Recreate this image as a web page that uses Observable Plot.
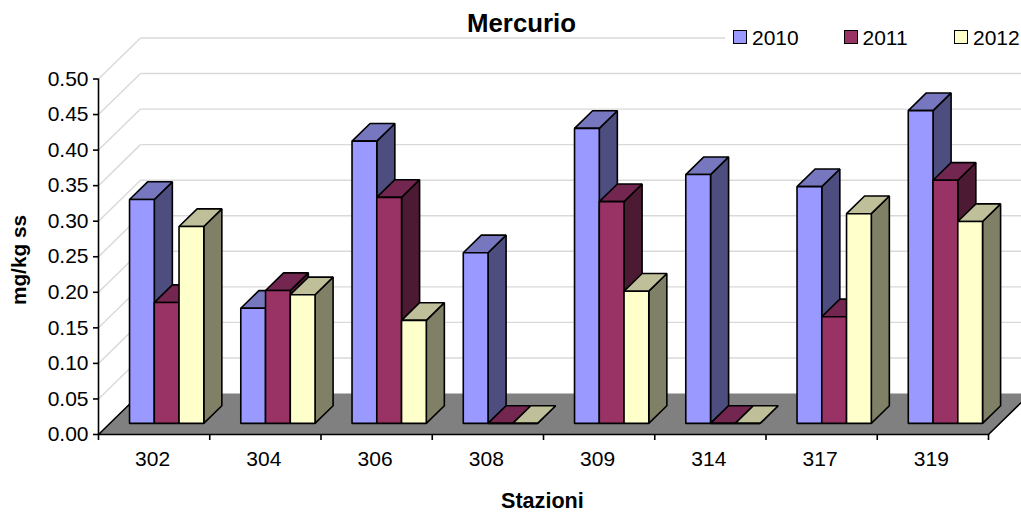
<!DOCTYPE html>
<html><head><meta charset="utf-8">
<script src="https://cdn.jsdelivr.net/npm/d3@7"></script>
<script src="https://cdn.jsdelivr.net/npm/@observablehq/plot@0.6"></script>
<style>
html,body{margin:0;padding:0;background:#fff;overflow:hidden}
#wrap{position:relative;width:1021px;height:516px;font-family:"Liberation Sans",Arial,sans-serif;color:#000}
#wrap svg{position:absolute;left:0;top:0}
.t{position:absolute;white-space:nowrap;line-height:1}
.sw{position:absolute;width:12px;height:12px;border:1.6px solid #000;box-sizing:content-box}
#legend{position:absolute;left:725px;top:22px;width:296px;height:30px;background:#fff}
</style></head><body>
<div id="wrap">
</div>
<script>
const stations = ["302","304","306","308","309","314","317","319"];
const v2010 = [0.315,0.162,0.397,0.240,0.415,0.350,0.333,0.440];
const v2011 = [0.170,0.187,0.318,0,0.312,0,0.150,0.342];
const v2012 = [0.277,0.181,0.145,0,0.186,0,0.295,0.284];
const years = ["2010","2011","2012"];
const seriesValues = [v2010,v2011,v2012];
const frontColors = ["#9999FF","#993366","#FFFFCC"];
const topColors = ["#7777BF","#732650","#BFBF99"];
const sideColors = ["#4D4D80","#4D1A33","#808066"];
const yTicks = [0,0.05,0.10,0.15,0.20,0.25,0.30,0.35,0.40,0.45,0.50];
const gridValues = [0.05,0.10,0.15,0.20,0.25,0.30,0.35,0.40,0.45,0.50];

// oblique projection of the 3D box: depth 0..1 shifts points in data units
const depthX = 0.3775, depthY = 0.0577;
const barStart = 0.177, barWidth = 0.2225;
const d0 = 0.27, d1 = 0.70;
const P = (x, v, d) => ({x: x + d * depthX, y: v + d * depthY});

const polys = [];
function poly(id, fill, pts){ pts.forEach(p => polys.push({...p, id, fill})); }
stations.forEach((s, i) => {
  seriesValues.forEach((vals, k) => {
    const v = vals[i], a = i + barStart + k * barWidth, b = a + barWidth;
    poly(`${i}-${k}-side`, sideColors[k], [P(b,0,d0),P(b,0,d1),P(b,v,d1),P(b,v,d0)]);
    poly(`${i}-${k}-top`, topColors[k], [P(a,v,d0),P(a,v,d1),P(b,v,d1),P(b,v,d0)]);
    poly(`${i}-${k}-front`, frontColors[k], [P(a,0,d0),P(b,0,d0),P(b,v,d0),P(a,v,d0)]);
  });
});
const floor = [P(0,0,1),P(0,0,0),P(8,0,0),P(8,0,1)];
const wallGrid = gridValues.flatMap(v => [
  {x1:P(0,v,0).x, y1:P(0,v,0).y, x2:P(0,v,1).x, y2:P(0,v,1).y},
  {x1:P(0,v,1).x, y1:P(0,v,1).y, x2:P(8,v,1).x, y2:P(8,v,1).y}
]);

const chart = Plot.plot({
  width:1021, height:516,
  marginLeft:98, marginRight:33, marginTop:78.5, marginBottom:82,
  x:{domain:[0,8]},
  y:{domain:[0,0.5]},
  color:{type:"identity"},
  style:{fontFamily:'"Liberation Sans",Arial,sans-serif', background:"transparent", color:"#000"},
  marks:[
    Plot.link(wallGrid,{x1:"x1",y1:"y1",x2:"x2",y2:"y2",stroke:"#d9d9d9",strokeWidth:1.4,curve:"linear"}),
    Plot.line(floor,{x:"x",y:"y",fill:"#808080",stroke:"none",curve:"linear-closed"}),
    Plot.line(floor,{x:"x",y:"y",stroke:"#000",strokeWidth:1.6}),
    Plot.line(polys,{x:"x",y:"y",z:"id",fill:"fill",stroke:"#000",strokeWidth:1.6,curve:"linear-closed",strokeLinejoin:"miter"}),
    Plot.ruleX([0],{y1:0,y2:0.5,stroke:"#000",strokeWidth:1.6}),
    Plot.axisY({ticks:yTicks,tickFormat:d3.format(".2f"),tickSize:5,tickPadding:5,fontSize:21,label:null,strokeWidth:1.6,stroke:"#000",fill:"#000"}),
    Plot.axisX({ticks:[0,1,2,3,4,5,6,7,8],tickFormat:()=>"",tickSize:6,label:null,strokeWidth:1.6,stroke:"#000"}),
    Plot.axisX({ticks:stations.map((s,i)=>i+0.5),tickFormat:t=>stations[t-0.5],tickSize:0,tickPadding:17,dx:-1.5,fontSize:21,label:null,fill:"#000"})
  ]
});
const wrap = document.getElementById("wrap");
wrap.appendChild(chart);
function label(text,css){const e=document.createElement("div");e.className="t";e.textContent=text;e.style.cssText+=css;wrap.appendChild(e);return e;}
const lg=document.createElement("div");lg.id="legend";wrap.appendChild(lg);
label("Mercurio","left:467px;top:11px;font-size:25.8px;font-weight:bold;");
label("Stazioni","left:501px;top:490px;font-size:21.6px;font-weight:bold;");
label("mg/kg ss","left:19px;top:260px;font-size:20.8px;font-weight:bold;transform:translate(-50%,-50%) rotate(-90deg);");
years.forEach((y,k)=>{
  const sw=document.createElement("div");sw.className="sw";
  sw.style.left=(733+k*110.5)+"px";sw.style.top="30px";sw.style.background=frontColors[k];wrap.appendChild(sw);
  label(y,`left:${752+k*110.5}px;top:27px;font-size:21px;`);
});
</script>
</body></html>
